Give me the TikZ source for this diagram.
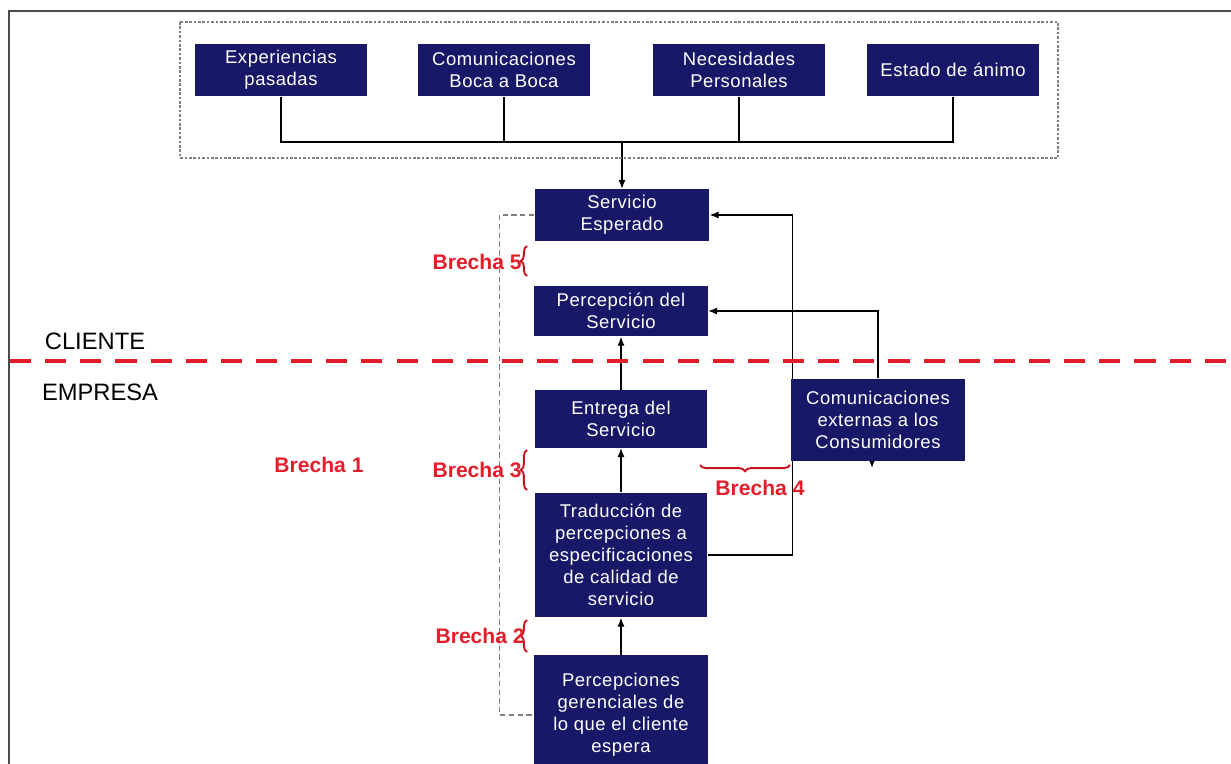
\documentclass[tikz,border=0pt]{standalone}
\usepackage{fontspec}
\setmainfont{Liberation Sans}
\newfontfamily\boxfont[LetterSpace=3]{Liberation Sans}
\usetikzlibrary{arrows.meta,decorations.pathreplacing,backgrounds}
\definecolor{boxblue}{RGB}{24,24,104}
\definecolor{gapred}{RGB}{226,30,42}
\definecolor{bracered}{RGB}{200,20,30}
\tikzset{
  box/.style={fill=boxblue, text=white, align=center, inner sep=2pt,
    minimum width=3.46cm, font=\boxfont\fontsize{10.5}{12.5}\selectfont},
  link/.style={draw=black, line width=0.6pt},
  arrow/.style={link, -{Latex[length=5pt,width=4pt]}},
  grpbox/.style={draw=gray, line width=0.6pt, dash pattern=on 1.5pt off 1pt},
  gapline/.style={draw=gray, line width=0.7pt, dash pattern=on 3pt off 2pt},
  divider/.style={draw=gapred, line width=2.2pt, dash pattern=on 12pt off 8pt},
  gapbrace/.style={draw=bracered, line width=1.1pt, decorate,
    decoration={brace, amplitude=3.5pt}},
  gaplabel/.style={text=gapred, font=\bfseries\fontsize{12}{14}\selectfont, inner sep=0pt},
  sidelabel/.style={font=\fontsize{13.5}{16}\selectfont, inner sep=0pt}
}

\begin{document}
\begin{tikzpicture}[x=0.02cm, y=-0.02cm]
  \useasboundingbox (0,0) rectangle (1231,764);
  \clip (0,0) rectangle (1231,764);

  % frame
  \draw[gray!60!black, line width=1.2pt] (1231,11) -- (9,11) -- (9,764);

  % customer factors
  \draw[grpbox] (180,22) rectangle (1058,158);
  \node[box, minimum height=1.06cm] (exp) at (281,70) {Experiencias\\pasadas};
  \node[box, minimum height=1.06cm] (bab) at (504,70) {Comunicaciones\\Boca a Boca};
  \node[box, minimum height=1.06cm] (nec) at (739,70) {Necesidades\\Personales};
  \node[box, minimum height=1.06cm] (animo) at (953,70) {Estado de ánimo};
  \coordinate (join) at (622,142);

  % model column
  \node[box, minimum width=3.5cm, minimum height=1.04cm] (se) at (622,215) {Servicio\\Esperado};
  \node[box, minimum width=3.48cm, minimum height=1.02cm] (pc) at (621,311) {Percepción del\\Servicio};
  \node[box, minimum width=3.46cm, minimum height=1.16cm] (ent) at (621,419) {Entrega del\\Servicio};
  \node[box, minimum width=3.46cm, minimum height=2.5cm] (tr) at (621,555)
    {Traducción de\\percepciones a\\especificaciones\\de calidad de\\servicio};
  \node[box, minimum width=3.5cm, minimum height=2.4cm] (pg) at (621,715)
    {Percepciones\\gerenciales de\\lo que el cliente\\espera};
  \node[box, minimum width=3.48cm, minimum height=1.66cm] (ce) at (878,420)
    {Comunicaciones\\externas a los\\Consumidores};

  \begin{pgfonlayer}{background}
    \draw[link] (exp.south) -- (exp.south |- join) -- (animo.south |- join) -- (animo.south);
    \draw[link] (bab.south) -- (bab.south |- join);
    \draw[link] (nec.south) -- (nec.south |- join);
    \draw[arrow] (join) -- (se.north);
    \draw[arrow] (ent.north) -- (pc.south);
    \draw[arrow] (tr.north) -- (ent.south);
    \draw[arrow] (pg.north) -- (tr.south);
    \draw[arrow] (tr.east) -- ++(85,0) |- (se.east);
    \draw[arrow] (ce.north) |- (pc.east);
    \draw[arrow] ([xshift=-0.12cm]ce.south) -- ++(0,6);
    \draw[gapline] (se.west) -- ++(-35,0) |- (pg.west);
  \end{pgfonlayer}

  % client / company border
  \draw[divider] (10,361) -- (1231,361);
  \node[sidelabel] (cli) at (95,341) {CLIENTE};
  \node[sidelabel] (emp) at (100,392) {EMPRESA};

  % gaps
  \draw[gapbrace] (527,276) -- (527,246);
  \draw[gapbrace] (527,490) -- (527,450);
  \draw[gapbrace] (527,652) -- (527,620);
  \draw[gapbrace] (790,465) -- (700,465);
  \node[gaplabel, anchor=east] (b5) at (522,262) {Brecha 5};
  \node[gaplabel, anchor=east] (b3) at (522,470) {Brecha 3};
  \node[gaplabel, anchor=east] (b2) at (525,636) {Brecha 2};
  \node[gaplabel] (b1) at (319,465) {Brecha 1};
  \node[gaplabel] (b4) at (760,488) {Brecha 4};
\end{tikzpicture}
\end{document}
